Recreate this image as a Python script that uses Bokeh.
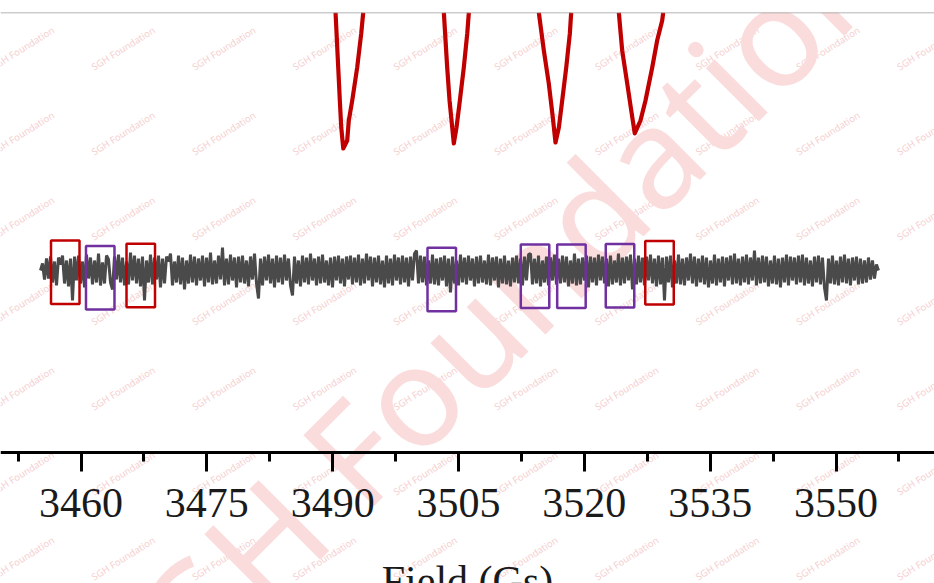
import numpy as np
from bokeh.plotting import figure
from bokeh.models import Range1d, FixedTicker, Span, Label
from bokeh.embed import file_html
from bokeh.resources import INLINE

# ---------------- data ----------------
major_ticks = [3460, 3475, 3490, 3505, 3520, 3535, 3550]
minor_ticks = [3452.5, 3467.5, 3482.5, 3497.5, 3512.5, 3527.5, 3542.5, 3557.5]

# red spectrum: four absorption dips (each runs up to the top border); NaN separates the dips
nan = float("nan")
red_field = [3490.34, 3490.66, 3490.85, 3491.02, 3491.26, 3491.73, 3491.92, 3492.33, 3492.92, 3493.40, 3493.64, nan,
             3503.25, 3503.65, 3503.93, 3504.25, 3504.44, 3504.76, 3505.16, 3505.63, 3506.04, 3506.23, nan,
             3514.57, 3515.17, 3515.76, 3516.24, 3516.56, 3516.96, 3517.36, 3517.84, 3518.27, 3518.43, nan,
             3524.11, 3524.51, 3525.11, 3525.59, 3526.01, 3526.69, 3527.29, 3528.09, 3528.68, 3529.28, 3529.40]
red_signal = [258, 203, 170, 143, 122, 130, 150, 170, 203, 237, 258, nan,
              258, 203, 170, 143, 127, 143, 170, 203, 237, 258, nan,
              258, 220, 187, 153, 128, 143, 170, 203, 237, 258, nan,
              258, 220, 187, 160, 137, 150, 170, 203, 230, 250, 258]

# grey noise trace (flat spectrum): sweep limits and read-off values
noise_start, noise_end = 3455.17, 3555.06
noise_signal = [
    0, 7, -9, 12, -8, 14, -12, 9, -15, 13, 6, 15, -13, 10, -16, 12, -30, 14, -10, 15,
    -13, 9, -17, 16, -8, 13, -14, 10, -12, 17, -15, 8, -13, 15, 11, -12, -19, 14, -9, 16,
    -12, 13, -15, 9, -14, 18, -10, 15, -13, 12, -16, 14, -30, 10, -12, 16, -14, 13, -9, 15,
    -17, 12, -13, 14, 9, 17, -15, 9, -12, 15, -14, 13, -19, 10, -13, 16, -12, 14, -15, 12,
    -10, 15, -16, 13, -12, 18, -14, 10, -13, 15, -9, 23, -15, 12, -14, 16, -10, 13, -17, 14,
    -12, 15, -13, 10, -16, 14, -9, 17, -13, -28, 12, -15, 14, -10, 16, -13, 12, -17, 15, -12,
    13, -14, 16, -10, 12, -15, -25, 14, -13, 10, -16, 15, -12, 13, -14, 17, -10, 12, -15, 14,
    -13, 16, -12, 10, -15, 13, -17, 14, -10, 15, -13, 12, -16, 14, -9, 15, -14, 13, -12, 16,
    -15, 12, -13, 17, -10, 14, -16, 13, -12, 15, -14, 10, -17, 15, -13, 12, -15, 16, -10, 13,
    -14, 15, -12, 13, -16, 14, -10, 17, 20, -13, 15, -12, 14, -15, 10, -13, 16, -14, 12, -15,
    13, -10, 15, -16, 12, -22, 14, -13, 10, -15, 16, -12, 13, -14, 15, -10, 12, -16, 14, -13,
    15, -12, 10, -14, 16, -15, 13, -10, 14, -17, 12, -13, 15, -14, 10, -16, 13, -12, 15, -13,
    12, -15, 14, -10, 16, 17, -14, 12, -13, 15, -16, 10, -12, 14, -15, 13, -10, 16, -14, 12,
    -13, 15, -12, 14, -16, 10, -13, 17, -15, 12, -14, 13, -10, 15, -17, 14, -12, 13, -15, 16,
    -10, 14, -13, 12, -16, 15, -14, 10, -12, 17, -15, 13, -13, 14, -10, 16, -19, 12, -14, 15,
    -12, 13, -15, 14, -10, 16, -13, 12, -16, 15, -14, 13, -30, 14, -12, 15, -17, 10, -13, 16,
    -14, 12, -15, 13, -10, 17, -13, 14, -16, 12, -12, 15, -14, 13, -17, 10, -13, 16, -15, 12,
    -12, 14, -16, 13, -10, 15, -14, 17, -13, 12, -15, 14, -12, 16, -14, 13, -10, 20, -15, 13,
    -13, 15, -12, 14, -16, 10, -13, 15, -14, 12, -17, 13, -12, 16, -15, 14, -10, 13, -14, 15,
    -12, 16, -15, 13, -13, 10, -16, 14, -12, 15, -14, 13, -17, -30, 12, -13, 15, -14, 10, -15,
    14, -12, 16, -13, 12, -15, 13, -10, 14, -14, 12, -13, 10, -12, 13, -9, 10, -8, 6, 0]

# highlighted regions on the noise trace (field centre, vertical centre)
red_box_field = [3458.12, 3467.12, 3528.96]
red_box_level = [-1.7, -5.0, -2.2]
purple_box_field = [3462.29, 3503.00, 3514.12, 3518.46, 3524.25]
purple_box_level = [-7.2, -8.9, -5.7, -5.7, -5.2]

# ---------------- figure ----------------
W, H = 934, 583
X0, X1 = 3450.40, 3561.74
Y0, Y1 = -313, 258
AXIS_Y = -182
p = figure(width=W, height=H, output_backend="svg", toolbar_location=None,
           x_range=Range1d(X0, X1), y_range=Range1d(Y0, Y1),
           min_border_left=0, min_border_right=0, min_border_top=12, min_border_bottom=0,
           y_axis_location=None)
p.outline_line_color = None
p.grid.visible = False
p.background_fill_color = "white"
p.border_fill_color = "white"

px_per_x = W / (X1 - X0)
def dx(px):
    return X0 + px / px_per_x
def dy(py):
    return 270 - py

# small repeated watermark
for k in range(10):
    for j in range(7):
        p.add_layout(Label(x=dx(22 + 100.7 * k), y=dy(48 + 85 * j), text="SGH Foundation",
                           angle=32, angle_units="deg", text_font_size="9.5px",
                           text_font="Noto Sans", text_color="#f5cfcf",
                           text_align="center", text_baseline="middle", level="underlay"))

# large diagonal watermark
p.add_layout(Label(x=dx(479), y=dy(323), text="SGH Foundation", angle=45, angle_units="deg",
                   text_font_size="140px", text_font="Noto Sans", text_color="#fadcdc",
                   text_align="center", text_baseline="middle", level="underlay"))

# top border line
p.add_layout(Span(location=Y1, dimension="width", line_color="#9a9a9a", line_width=1.5))

# traces
p.line(red_field, red_signal, line_color="#c00000", line_width=4.2, line_join="round")
noise_field = np.linspace(noise_start, noise_end, len(noise_signal))
p.line(noise_field, noise_signal, line_color="#4a4a4a", line_width=3)

# boxes
bw = 28.5 / px_per_x
p.rect(x=red_box_field, y=red_box_level, width=bw, height=63.5, fill_color=None,
       line_color="#c00000", line_width=2.5)
p.rect(x=purple_box_field, y=purple_box_level, width=bw, height=63.5, fill_color=None,
       line_color="#7030a0", line_width=2.5)

# axis (fixed inside the frame so that the cut-off title behaves like the reference)
ax = p.xaxis[0]
ax.fixed_location = AXIS_Y
ax.ticker = FixedTicker(ticks=major_ticks, minor_ticks=minor_ticks)
ax.axis_line_width = 3
ax.axis_line_color = "black"
ax.major_tick_line_width = 3
ax.minor_tick_line_width = 3
ax.major_tick_line_color = "black"
ax.minor_tick_line_color = "black"
ax.major_tick_in = 0
ax.major_tick_out = 19
ax.minor_tick_in = 0
ax.minor_tick_out = 9
ax.major_label_text_font = "Liberation Serif"
ax.major_label_text_font_size = "42px"
ax.major_label_text_color = "#1a1a1a"
ax.major_label_standoff = 17
ax.axis_label = "Field (Gs)"
ax.axis_label_text_font = "Liberation Serif"
ax.axis_label_text_font_size = "42px"
ax.axis_label_text_font_style = "normal"
ax.axis_label_text_color = "#1a1a1a"
ax.axis_label_standoff = 38

open("out.html", "w").write(file_html(p, INLINE))
